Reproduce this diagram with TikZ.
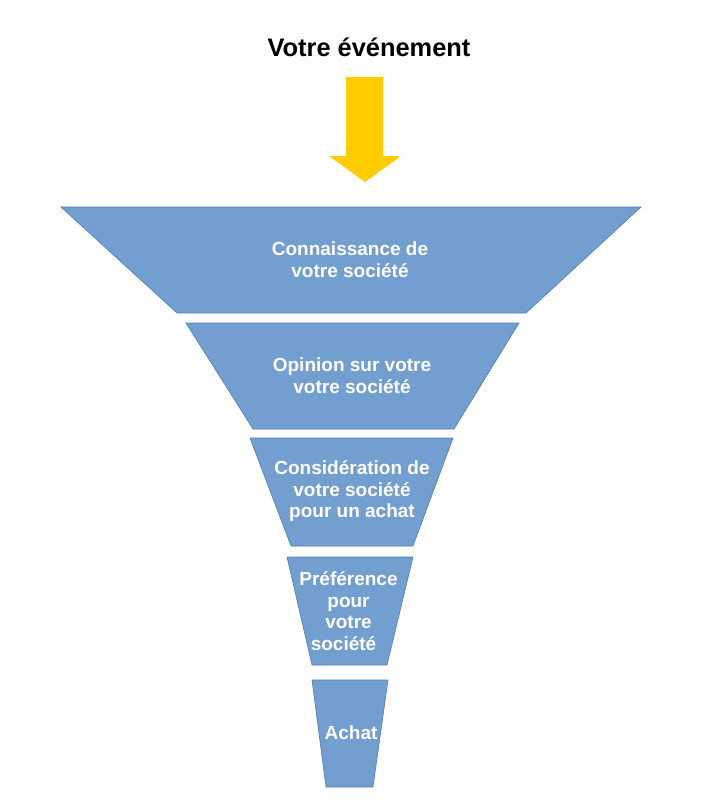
\documentclass[tikz,border=0pt]{standalone}
\usepackage{fontspec}
\setmainfont{Liberation Sans}
\definecolor{funnelfill}{HTML}{729FCF}
\definecolor{funneledge}{HTML}{4F7FB8}
\definecolor{arrowyellow}{HTML}{FFCC00}
\begin{document}
\begin{tikzpicture}[x=1pt,y=-1pt,
  stage/.style={fill=funnelfill,draw=funneledge,line width=0.6pt,line join=miter},
  stagetext/.style={text=white,font=\bfseries\fontsize{19}{21.6}\selectfont,align=center,inner sep=0pt},
  titletext/.style={text=black,font=\bfseries\fontsize{25.4}{28}\selectfont,inner sep=0pt}]
\useasboundingbox (0,0) rectangle (713,806);
\fill[white] (0,0) rectangle (713,806);
% title
\node[titletext] (title) at (369,47) {Votre événement};
% arrow
\fill[arrowyellow] (346,77) -- (383,77) -- (383,156) -- (401,156) -- (365,182) -- (329,156) -- (346,156) -- cycle;
% stages
\draw[stage] (61,207) -- (641,207) -- (526,313) -- (177,313) -- cycle;
\draw[stage] (186,323) -- (519,323) -- (454,429) -- (253,429) -- cycle;
\draw[stage] (250,438) -- (453,438) -- (413,546) -- (291,546) -- cycle;
\draw[stage] (287,557) -- (413,557) -- (387,665) -- (312,665) -- cycle;
\draw[stage] (312,680) -- (388,680) -- (373,787) -- (326,787) -- cycle;
% labels
\node[stagetext] (s1) at (350,260) {Connaissance de\\votre société};
\node[stagetext] (s2) at (352,376) {Opinion sur votre\\votre société};
\node[stagetext] (s3) at (352,491) {Considération de\\votre société\\pour un achat};
\node[stagetext] (s4) at (348.5,611) {Préférence\\pour\\votre\\société\hspace*{10pt}};
\node[stagetext] (s5) at (351,733) {Achat};
\end{tikzpicture}
\end{document}
